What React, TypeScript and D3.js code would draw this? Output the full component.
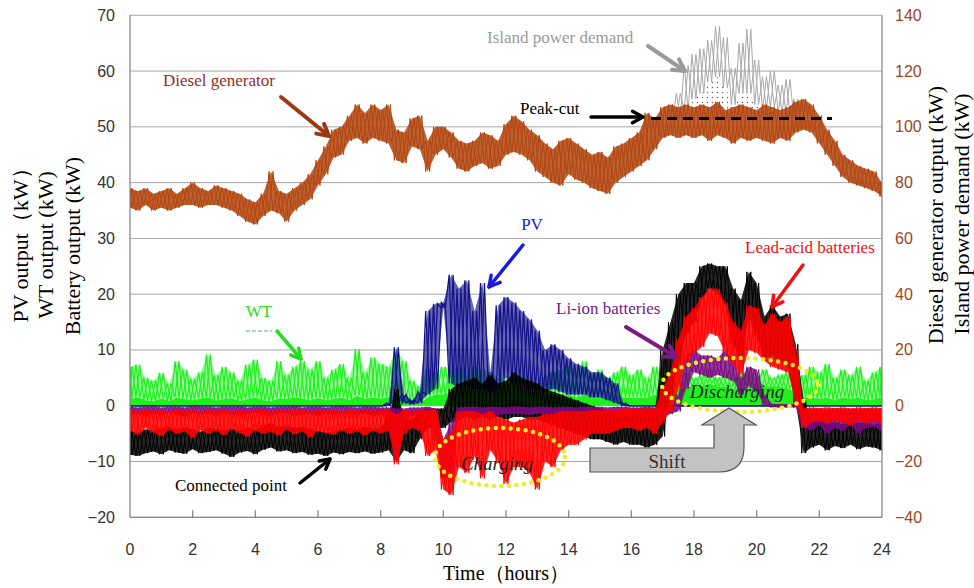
import React from 'react';
import * as d3 from 'd3';

// 15-minute time grid over one day (hours)
const hours: number[] = d3.range(97).map((i) => i * 0.25);

const xTicks = [0, 2, 4, 6, 8, 10, 12, 14, 16, 18, 20, 22, 24];
const leftTicks = [-20, -10, 0, 10, 20, 30, 40, 50, 60, 70];
const rightTicks = [-40, -20, 0, 20, 40, 60, 80, 100, 120, 140];

const PEAK_CUT = 103; // kW, diesel output ceiling

// Diesel generator output (kW, right axis): upper / lower envelope per 15 min
const dieselHi = [
  78, 77, 78, 76, 77, 78, 76, 78, 80, 78,
  77, 79, 78, 77, 76, 74, 73, 76, 84, 77,
  76, 78, 80, 83, 88, 93, 99, 100, 104, 108,
  105, 108, 106, 108, 99, 98, 103, 104, 95, 100,
  100, 98, 95, 94, 95, 98, 97, 95, 101, 104,
  102, 99, 97, 94, 92, 95, 96, 94, 92, 90,
  91, 89, 93, 94, 96, 98, 105, 103, 107, 108,
  107, 108, 107, 108, 107, 109, 106, 107, 108, 107,
  106, 108, 107, 106, 107, 109, 110, 108, 104, 99,
  95, 90, 88, 86, 85, 84, 80,
];
const dieselLo = [
  71, 70, 72, 70, 71, 70, 71, 72, 72, 71,
  72, 72, 71, 70, 68, 66, 65, 68, 70, 69,
  66, 70, 72, 74, 79, 83, 89, 90, 95, 96,
  94, 96, 95, 94, 88, 87, 93, 92, 84, 90,
  92, 89, 85, 84, 86, 87, 85, 86, 90, 91,
  90, 88, 84, 82, 80, 79, 83, 81, 80, 78,
  77, 76, 80, 82, 84, 86, 88, 92, 96, 97,
  96, 97, 96, 97, 95, 97, 96, 94, 96, 95,
  96, 95, 94, 96, 95, 98, 99, 98, 94, 90,
  86, 82, 80, 79, 78, 77, 75,
];

// Island power demand (kW, right axis) where it exceeds the peak-cut, 17:15 - 21:30
const demandHours = hours.slice(69, 87);
const demandHi = [106, 112, 122, 126, 128, 131, 136, 132, 121, 130, 135, 124, 118, 120, 115, 117, 110, 106];
const demandLo = [102, 103, 106, 110, 112, 116, 118, 114, 108, 112, 112, 108, 106, 107, 105, 105, 103, 102];

// WT output (kW)
const wtHi = [
  7.0, 7.4, 5.0, 4.5, 5.9, 4.0, 8.0, 6.5, 4.8, 6.0,
  9.2, 5.5, 7.0, 6.0, 4.5, 7.4, 8.3, 5.0, 4.5, 8.0,
  5.5, 7.0, 8.0, 6.5, 8.0, 5.0, 6.5, 7.5, 5.0, 10.1,
  6.0, 8.7, 7.5, 7.0, 10.0, 8.0, 4.5, 3.5, 6.5, 6.0,
  7.0, 6.5, 7.0, 6.0, 7.0, 6.5, 6.0, 5.0, 5.0, 4.5,
  5.5, 5.0, 4.0, 5.0, 6.0, 6.5, 7.0, 6.0, 8.0, 5.5,
  6.5, 5.0, 6.0, 7.0, 5.5, 6.5, 5.0, 7.0, 5.5, 6.0,
  5.5, 6.0, 5.0, 5.5, 6.5, 5.0, 5.5, 5.0, 6.0, 5.5,
  5.0, 6.5, 5.0, 5.5, 6.0, 5.0, 5.5, 7.0, 6.0, 7.5,
  5.0, 6.5, 5.5, 7.0, 4.5, 6.0, 7.0,
];
const wtLo = [
  1.2, 1.5, 1.0, 0.8, 1.3, 0.8, 1.5, 1.2, 1.0, 1.3,
  1.5, 1.0, 1.2, 1.4, 0.8, 1.2, 1.5, 1.0, 0.8, 1.3,
  1.2, 1.5, 1.3, 1.0, 1.4, 1.0, 1.2, 1.5, 1.0, 1.8,
  1.2, 1.5, 1.3, 1.5, 2.0, 1.5, 0.8, 0.5, 1.5, 2.0,
  2.0, 2.5, 2.0, 2.5, 2.0, 2.5, 2.0, 2.0, 2.0, 1.5,
  2.0, 1.5, 1.5, 1.5, 2.0, 2.0, 2.0, 1.5, 2.0, 1.5,
  1.5, 1.5, 2.0, 1.5, 1.5, 1.5, 1.5, 2.0, 1.5, 2.5,
  3.0, 3.5, 3.5, 3.5, 4.0, 3.5, 3.5, 3.0, 3.5, 3.5,
  3.5, 3.5, 3.5, 3.5, 3.0, 2.5, 1.5, 1.5, 1.2, 1.5,
  1.0, 1.5, 1.2, 1.5, 1.0, 1.2, 1.5,
];

// PV output (kW)
const pvHi = [
  0, 0, 0, 0, 0, 0, 0, 0, 0, 0,
  0, 0, 0, 0, 0, 0, 0, 0, 0, 0,
  0, 0, 0, 0, 0, 0, 0, 0, 0, 0,
  0, 0, 0, 0.5, 10.5, 2, 1, 2.5, 17, 18.3,
  18.5, 23.5, 21, 22.5, 17, 22, 6, 18, 19.5, 18.5,
  17, 15.5, 13.5, 10, 11, 10, 8.5, 7.5, 7, 6,
  6, 5, 4, 0.5, 0, 0, 0, 0, 0, 0,
  0, 0, 0, 0, 0, 0, 0, 0, 0, 0,
  0, 0, 0, 0, 0, 0, 0, 0, 0, 0,
  0, 0, 0, 0, 0, 0, 0,
];
const pvLo = [
  0, 0, 0, 0, 0, 0, 0, 0, 0, 0,
  0, 0, 0, 0, 0, 0, 0, 0, 0, 0,
  0, 0, 0, 0, 0, 0, 0, 0, 0, 0,
  0, 0, 0, 0, 1, 0.5, 0.3, 0.5, 2, 3,
  17.5, 4, 3, 3.5, 3, 3, 2.5, 3, 5, 4,
  4, 3, 3, 2.5, 3, 2.5, 2, 2, 2, 1.5,
  1.5, 1, 0.5, 0, 0, 0, 0, 0, 0, 0,
  0, 0, 0, 0, 0, 0, 0, 0, 0, 0,
  0, 0, 0, 0, 0, 0, 0, 0, 0, 0,
  0, 0, 0, 0, 0, 0, 0,
];

// Li-ion battery output (kW)
const liHi = [
  -0.2, -0.3, -0.2, -0.1, -0.3, -0.2, -0.2, -0.3, -0.1, -0.2,
  -0.2, -0.3, -0.2, -0.2, -0.1, -0.3, -0.2, -0.2, -0.3, -0.2,
  -0.2, -0.1, -0.3, -0.2, -0.2, -0.3, -0.2, -0.1, -0.2, -0.3,
  -0.2, -0.2, -0.3, -0.3, -0.5, -0.5, -0.3, -0.3, -0.2, -0.5,
  -6, -3, -0.3, -0.2, -0.2, -0.3, -0.2, -0.2, -0.3, -0.2,
  -0.2, -0.3, -0.2, -0.2, -0.3, -0.2, -0.2, -0.3, -0.2, -0.2,
  -0.2, -0.3, -0.2, -0.2, -0.3, -0.3, -0.2, -0.3, -0.3, -0.2,
  2, 9, 10, 9, 9, 8.5, 10, 8, 5, 7,
  6.5, 2, 0.3, 0.3, 0.3, 0.3, -0.5, -0.6, -0.5, -0.7,
  -0.5, -0.6, -0.5, -0.7, -0.5, -0.6, -0.5,
];
const liLo = [
  -1.6, -1.4, -1.8, -1.5, -1.7, -1.3, -1.6, -1.9, -1.4, -1.6,
  -1.5, -1.8, -1.4, -1.6, -1.7, -1.5, -1.3, -1.6, -1.8, -1.5,
  -1.4, -1.7, -1.6, -1.5, -1.8, -1.4, -1.6, -1.5, -1.7, -1.6,
  -1.5, -1.8, -1.6, -2.0, -9.5, -3.0, -1.8, -1.5, -1.2, -6.0,
  -13, -12, -2.0, -1.5, -1.6, -1.5, -1.4, -1.6, -1.5, -1.4,
  -1.5, -1.6, -1.4, -1.5, -1.6, -1.5, -1.4, -1.5, -1.6, -1.5,
  -1.5, -1.6, -1.5, -1.6, -2.0, -1.8, -2.0, -1.9, -2.0, -1.5,
  -1, 3, 6, 5.5, 5, 5.5, 5, 4.5, 2, 3.5,
  2.5, 0, -0.3, -0.3, -0.3, -0.3, -4.0, -4.5, -3.5, -5.0,
  -4.0, -4.5, -3.5, -5.0, -4.0, -3.8, -4.5,
];

// Lead-acid battery output (kW)
const leadHi = [
  -0.8, -1.0, -0.7, -0.9, -0.8, -1.0, -0.7, -0.9, -0.8, -1.0,
  -0.8, -0.9, -0.7, -1.0, -0.8, -0.9, -0.8, -0.7, -1.0, -0.8,
  -0.9, -0.8, -0.7, -1.0, -0.8, -0.9, -0.8, -1.0, -0.7, -0.9,
  -0.8, -0.9, -0.8, -0.8, -1.5, -0.8, -1.0, -0.8, -0.8, -0.5,
  -6, -5, -1, -1, -1, -1.5, -1, -2, -2.5, -3,
  -2.5, -2, -2, -1.5, -1.5, -1, -1, -1, -1, -0.8,
  -0.8, -0.8, -0.8, -0.5, -0.5, -0.5, -0.5, -0.5, 3, 6,
  12, 16, 17.5, 19.5, 21, 21, 18.5, 15, 13.5, 18,
  17.5, 14.5, 16.5, 15, 16, 10, -0.5, -0.3, -0.4, -0.3,
  -0.4, -0.3, -0.5, -0.3, -0.4, -0.3, -0.4,
];
const leadLo = [
  -4.5, -5.2, -4.0, -4.8, -5.5, -4.3, -5.0, -4.6, -5.8, -4.4,
  -5.0, -4.5, -5.3, -4.2, -4.9, -5.6, -4.4, -5.0, -4.7, -5.4,
  -4.3, -5.1, -4.6, -5.7, -4.5, -4.9, -5.2, -4.4, -5.0, -4.6,
  -5.3, -4.5, -4.9, -4.5, -10.5, -5.0, -4.0, -4.5, -9.0, -8.0,
  -15, -16, -11, -12, -9, -13, -8, -10, -14, -11,
  -11, -12, -15, -10, -11, -8, -7, -7, -6, -5,
  -5, -5, -4.5, -4, -4, -4.5, -4, -5, -3, -1,
  3, 8, 9.5, 10.5, 13, 12.5, 9.5, 7.5, 5.5, 10,
  9.5, 8, 7, 6.5, 6, 0.5, -4, -3, -2.8, -3.2,
  -2.6, -3.0, -3.4, -2.8, -3.1, -2.7, -3.2,
];

// Power at the connected point (kW)
const gridHi = [
  -4.5, -4.8, -4.2, -4.5, -4.0, -3.8, -4.2, -3.9, -4.3, -4.6,
  -4.0, -4.2, -4.4, -4.1, -4.5, -4.0, -4.3, -3.5, -3.2, -3.8,
  -3.6, -4.0, -3.8, -4.2, -4.5, -4.8, -4.6, -4.2, -4.0, -4.3,
  -3.8, -4.1, -4.0, -2, 3, -2, -2.5, -1, -0.5, -0.5,
  -0.5, 3, 4, 4.5, 5, 4, 5.5, 4, 4.5, 6,
  5, 4.5, 4, 3, 2.5, 2, 1.5, 1, 0.5, 0,
  -0.5, -1, -1, -1, -1, -0.5, -1, -1, 10, 15,
  20, 22, 22, 25, 25.5, 25, 25, 21, 19, 24,
  22, 16, 18, 16, 16.5, 11, 1, -3, -2.8, -3.2,
  -3, -3.3, -2.7, -3.1, -3, -3.4, -3,
];
const gridLo = [
  -8.8, -9.0, -8.5, -8.2, -8.7, -8.0, -8.4, -8.6, -7.8, -8.5,
  -8.3, -8.0, -8.6, -9.2, -8.4, -8.1, -8.7, -7.9, -7.5, -8.2,
  -8.0, -8.5, -8.3, -8.8, -8.6, -9.0, -8.4, -8.7, -8.3, -8.5,
  -8.2, -8.6, -8.4, -8.0, -10, -8, -8.5, -6, -4, -4,
  -4, -3, -2.5, -2, -2.5, -2, -2.5, -2, -2.5, -2,
  -2, -2.5, -2.5, -3, -3.5, -4, -4.5, -5, -5.5, -6,
  -6, -6.5, -7, -6.5, -7, -7, -7.5, -7, -5.5, 2,
  7, 13, 15, 19, 21, 20, 18, 11, 8, 16,
  12.5, 8.5, 9, 8, 7, 0.5, -8.5, -7.5, -7, -8,
  -7.2, -7.6, -7.0, -7.8, -7.3, -7.5, -8.0,
];

const SERIF = '"Liberation Serif", "Times New Roman", serif';
const SANS = '"Liberation Sans", Arial, sans-serif';

const PLOT = { left: 130, right: 882, top: 15.3, bottom: 517.3 };

type Pt = [number, number];

// Zig-zag through each 15-min envelope (high, then low), giving the noisy trace look
function zigzags(ts: number[], hi: number[], lo: number[]): [Pt[], Pt[]] {
  const d = 0.0625;
  const a: Pt[] = [];
  const b: Pt[] = [];
  ts.forEach((t, i) => {
    const t0 = Math.max(0, t - d);
    const t1 = Math.min(24, t + d);
    a.push([t0, hi[i]], [t1, lo[i]]);
    b.push([t0, lo[i]], [t1, hi[i]]);
  });
  return [a, b];
}

function Arrow({ x1, y1, x2, y2, color, width = 3.5, head = 12 }: any) {
  const ang = Math.atan2(y2 - y1, x2 - x1);
  const h1: Pt = [x2 - head * Math.cos(ang - 0.5), y2 - head * Math.sin(ang - 0.5)];
  const h2: Pt = [x2 - head * Math.cos(ang + 0.5), y2 - head * Math.sin(ang + 0.5)];
  return (
    <g stroke={color} strokeWidth={width} fill="none" strokeLinecap="round" strokeLinejoin="round">
      <line x1={x1} y1={y1} x2={x2} y2={y2} />
      <polyline points={`${h1[0]},${h1[1]} ${x2},${y2} ${h2[0]},${h2[1]}`} />
    </g>
  );
}

export default function App() {
  const x = d3.scaleLinear().domain([0, 24]).range([PLOT.left, PLOT.right]);
  const yL = d3.scaleLinear().domain([-20, 70]).range([PLOT.bottom, PLOT.top]);
  const yR = d3.scaleLinear().domain([-40, 140]).range([PLOT.bottom, PLOT.top]);

  const lineL = d3.line<Pt>().x((d) => x(d[0])).y((d) => yL(d[1]));
  const lineR = d3.line<Pt>().x((d) => x(d[0])).y((d) => yR(d[1]));

  const bandL = (hi: number[], lo: number[]) =>
    d3.area<number>().x((t) => x(t)).y0((_, i) => yL(lo[i])).y1((_, i) => yL(hi[i]))(hours) || '';

  const trace = (
    hi: number[],
    lo: number[],
    color: string,
    fillOpacity: number,
    key: string,
    width = 1
  ) => {
    const [a, b] = zigzags(hours, hi, lo);
    return (
      <g key={key}>
        <path d={bandL(hi, lo)} fill={color} fillOpacity={fillOpacity} stroke="none" />
        <path d={lineL(a) || ''} fill="none" stroke={color} strokeWidth={width} />
        <path d={lineL(b) || ''} fill="none" stroke={color} strokeWidth={width} />
      </g>
    );
  };

  // WT: solid body from zero up to the lower envelope, lighter spikes above it
  const wtBase =
    d3.area<number>().x((t) => x(t)).y0(yL(0)).y1((_, i) => yL(wtLo[i]))(hours) || '';
  const wtSpan = bandL(wtHi, wtLo);
  const [wtA, wtB] = zigzags(hours, wtHi, wtLo);

  const [dA, dB] = zigzags(hours, dieselHi, dieselLo);
  const dieselBand =
    d3.area<number>().x((t) => x(t)).y0((_, i) => yR(dieselLo[i])).y1((_, i) => yR(dieselHi[i]))(hours) || '';

  const [demA, demB] = zigzags(demandHours, demandHi, demandLo);
  const demandDots =
    d3
      .area<number>()
      .x((t) => x(t))
      .y0(yR(PEAK_CUT))
      .y1((_, i) => yR(Math.max(PEAK_CUT, demandLo[i])))(demandHours) || '';

  const DIESEL = '#b2450f';
  const GREEN = '#1ef01e';
  const GRID = '#a6a6a6';

  return (
    <svg
      width={974}
      height={588}
      viewBox="0 0 974 588"
      style={{ position: 'absolute', left: 0, top: 0, background: '#fff' }}
    >
      <defs>
        <clipPath id="plot-clip">
          <rect x={PLOT.left} y={PLOT.top} width={PLOT.right - PLOT.left} height={PLOT.bottom - PLOT.top} />
        </clipPath>
        <pattern id="stipple" width={5} height={5} patternUnits="userSpaceOnUse">
          <rect width={5} height={5} fill="#fff" />
          <circle cx={2.5} cy={2.5} r={0.75} fill="#666" />
        </pattern>
      </defs>

      {/* grid */}
      {leftTicks.map((v) => (
        <line key={v} x1={PLOT.left} x2={PLOT.right} y1={yL(v)} y2={yL(v)} stroke={GRID} strokeWidth={1} />
      ))}

      {/* series */}
      <g clipPath="url(#plot-clip)">
        {/* island demand above the peak-cut */}
        <path d={demandDots} fill="url(#stipple)" />
        <path d={lineR(demA) || ''} fill="none" stroke="#a9a9a9" strokeWidth={1} />
        <path d={lineR(demB) || ''} fill="none" stroke="#a9a9a9" strokeWidth={1} />

        {/* diesel generator */}
        <path d={dieselBand} fill={DIESEL} fillOpacity={0.85} />
        <path d={lineR(dA) || ''} fill="none" stroke={DIESEL} strokeWidth={1} />
        <path d={lineR(dB) || ''} fill="none" stroke={DIESEL} strokeWidth={1} />

        {/* wind turbine */}
        <path d={wtSpan} fill={GREEN} fillOpacity={0.45} />
        <path d={wtBase} fill={GREEN} />
        <path d={lineL(wtA) || ''} fill="none" stroke={GREEN} strokeWidth={1.2} />
        <path d={lineL(wtB) || ''} fill="none" stroke={GREEN} strokeWidth={1.2} />

        {trace(pvHi, pvLo, '#14148a', 0.65, 'pv', 1.3)}
        {trace(gridHi, gridLo, '#000000', 0.85, 'grid')}
        {trace(liHi, liLo, '#7a0a82', 0.8, 'li')}
        {trace(leadHi, leadLo, '#ff0000', 0.85, 'lead')}
      </g>

      {/* peak-cut level */}
      <line
        x1={651}
        x2={832}
        y1={yR(PEAK_CUT)}
        y2={yR(PEAK_CUT)}
        stroke="#000"
        strokeWidth={3}
        strokeDasharray="10 6"
      />

      {/* frame */}
      <g stroke="#888" strokeWidth={1.3} fill="none">
        <line x1={PLOT.left} x2={PLOT.left} y1={PLOT.top} y2={PLOT.bottom} />
        <line x1={PLOT.right} x2={PLOT.right} y1={PLOT.top} y2={PLOT.bottom} />
        <line x1={PLOT.left} x2={PLOT.right} y1={PLOT.bottom} y2={PLOT.bottom} />
        {xTicks.slice(1, -1).map((t) => (
          <line key={t} x1={x(t)} x2={x(t)} y1={PLOT.bottom} y2={PLOT.bottom - 7} />
        ))}
      </g>

      {/* tick labels */}
      <g fontFamily={SANS} fontSize={16} fill="#333">
        {leftTicks.map((v) => (
          <text key={v} x={115} y={yL(v)} textAnchor="end" dominantBaseline="central">
            {v < 0 ? `\u2212${-v}` : v}
          </text>
        ))}
        {xTicks.map((t) => (
          <text key={t} x={x(t)} y={549} textAnchor="middle" dominantBaseline="central">
            {t}
          </text>
        ))}
      </g>
      <g fontFamily={SANS} fontSize={16} fill="#9a4622">
        {rightTicks.map((v) => (
          <text key={v} x={895} y={yR(v)} textAnchor="start" dominantBaseline="central">
            {v < 0 ? `\u2212${-v}` : v}
          </text>
        ))}
      </g>

      {/* axis titles */}
      <g fontFamily={SERIF} fontSize={22} fill="#000" textAnchor="middle">
        <text transform="translate(28,240) rotate(-90)">PV output（kW）</text>
        <text transform="translate(53,245) rotate(-90)">WT output (kW)</text>
        <text transform="translate(80,246) rotate(-90)">Battery output (kW)</text>
        <text transform="translate(943,215) rotate(-90)">Diesel generator output (kW)</text>
        <text transform="translate(969,214) rotate(-90)">Island power demand (kW)</text>
        <text x={506} y={580} fontSize={20}>Time（hours）</text>
      </g>

      {/* annotations */}
      <g fontFamily={SERIF} fontSize={17}>
        <text x={163} y={86} fill="#962d1f">Diesel generator</text>
        <Arrow x1={281} y1={97} x2={329} y2={136} color="#9a3a14" width={4} head={13} />

        <text x={487} y={43} fill="#9a9a9a">Island power demand</text>
        <Arrow x1={648} y1={46} x2={685} y2={71} color="#9a9a9a" width={4} head={13} />

        <text x={520} y={114} fill="#000">Peak-cut</text>
        <Arrow x1={591} y1={117} x2={643} y2={117} color="#000" width={3.5} head={12} />

        <text x={532} y={230} fill="#1a1ae0" textAnchor="middle">PV</text>
        <Arrow x1={523} y1={245} x2={489} y2={287} color="#1a1ae0" width={3.5} head={12} />

        <text x={259} y={317} fill="#22dd22" textAnchor="middle">WT</text>
        <line x1={246} x2={272} y1={331} y2={331} stroke="#6a9a9a" strokeWidth={1} strokeDasharray="4 2" />
        <Arrow x1={277} y1={331} x2={301} y2={359} color="#22dd22" width={3.5} head={11} />

        <text x={175} y={491} fill="#000">Connected point</text>
        <Arrow x1={300} y1={483} x2={330} y2={459} color="#000" width={3.5} head={11} />

        <text x={556} y={314} fill="#7a1a82">Li-ion batteries</text>
        <Arrow x1={626} y1={327} x2={676} y2={357} color="#7a1a82" width={4} head={13} />

        <text x={745} y={253} fill="#ee1111">Lead-acid batteries</text>
        <Arrow x1={803} y1={265} x2={772} y2={307} color="#ee1111" width={3.5} head={12} />
      </g>

      {/* charging / discharging periods */}
      <ellipse cx={500} cy={457} rx={65} ry={29} fill="none" stroke="#eeee20" strokeWidth={4.5}
        strokeDasharray="0 7.5" strokeLinecap="round" />
      <text x={497} y={470} fontFamily={SERIF} fontSize={19} fontStyle="italic" textAnchor="middle" fill="#222">
        Charging
      </text>
      <ellipse cx={740} cy={385} rx={78} ry={27} fill="none" stroke="#eeee20" strokeWidth={4.5}
        strokeDasharray="0 7.5" strokeLinecap="round" />
      <text x={737} y={398} fontFamily={SERIF} fontSize={19} fontStyle="italic" textAnchor="middle" fill="#222">
        Discharging
      </text>

      {/* load shift arrow */}
      <path
        d="M590,448 L714,448 L714,425 L702,425 L729,408 L756,425 L744,425 L744,447 Q744,472 719,472 L590,472 Z"
        fill="#c3c3c3"
        stroke="#555"
        strokeWidth={1.2}
      />
      <text x={667} y={468} fontFamily={SERIF} fontSize={19} textAnchor="middle" fill="#333">
        Shift
      </text>
    </svg>
  );
}
